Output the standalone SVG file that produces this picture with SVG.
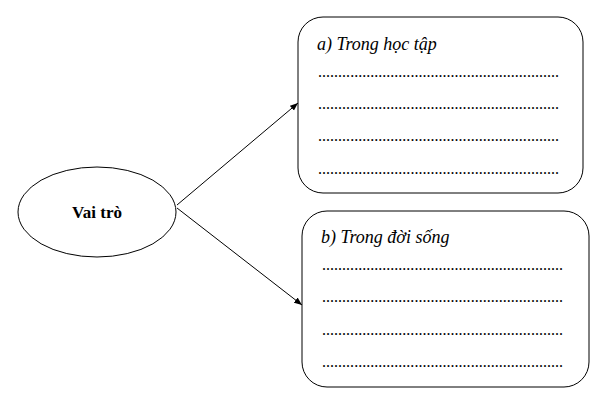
<svg xmlns="http://www.w3.org/2000/svg" width="613" height="414" viewBox="0 0 613 414">
<style>
.s{fill:#fff;stroke:#000;stroke-width:1}
.t{font-family:"Liberation Serif","DejaVu Serif",serif;font-size:18px;font-style:italic}
.d{font-family:"Liberation Serif","DejaVu Serif",serif;font-size:16px}
.b{font-family:"Liberation Serif","DejaVu Serif",serif;font-size:17px;font-weight:bold}
.c{stroke:#000;stroke-width:1;fill:none}
</style>
<defs><marker id="a" viewBox="0 0 10 10" refX="10" refY="5" markerWidth="8" markerHeight="8" orient="auto" markerUnits="userSpaceOnUse"><path d="M0,1 L10,5 L0,9 z"/></marker></defs>
<rect width="613" height="414" fill="#fff"/>
<g id="n1"><ellipse class="s" cx="97" cy="212" rx="79" ry="45"/><text class="b" x="97" y="218" text-anchor="middle">Vai trò</text></g>
<g id="n2"><rect class="s" x="298" y="17" width="285" height="176" rx="25"/>
<text class="t" x="317" y="50">a) Trong học tập</text>
<text class="d" x="318" y="77" textLength="241" lengthAdjust="spacing">............................................................</text>
<text class="d" x="318" y="109" textLength="241" lengthAdjust="spacing">............................................................</text>
<text class="d" x="318" y="141" textLength="241" lengthAdjust="spacing">............................................................</text>
<text class="d" x="318" y="174" textLength="241" lengthAdjust="spacing">............................................................</text></g>
<g id="n3"><rect class="s" x="302" y="211" width="287" height="176" rx="25"/>
<text class="t" x="321" y="243">b) Trong đời sống</text>
<text class="d" x="322" y="270" textLength="241" lengthAdjust="spacing">............................................................</text>
<text class="d" x="322" y="302" textLength="241" lengthAdjust="spacing">............................................................</text>
<text class="d" x="322" y="335" textLength="241" lengthAdjust="spacing">............................................................</text>
<text class="d" x="322" y="367" textLength="241" lengthAdjust="spacing">............................................................</text></g>
<g id="edges"><line class="c" x1="177" y1="205" x2="298" y2="103" marker-end="url(#a)"/><line class="c" x1="177" y1="208" x2="302" y2="305" marker-end="url(#a)"/></g>
</svg>
